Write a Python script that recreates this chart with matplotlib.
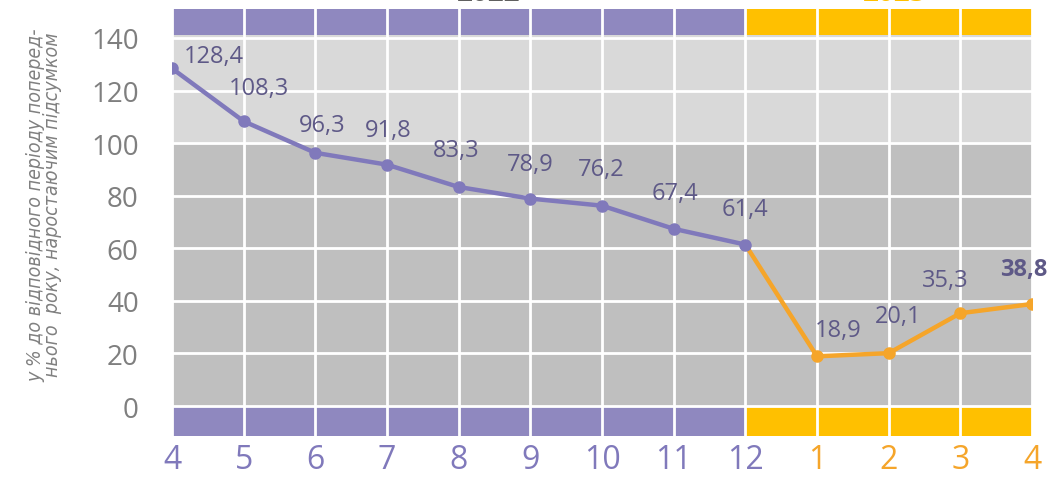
import matplotlib
matplotlib.use('Agg')
import matplotlib.pyplot as plt
import numpy as np

plt.rcParams['font.family'] = ['Open Sans', 'DejaVu Sans']

# data
months = ['4', '5', '6', '7', '8', '9', '10', '11', '12', '1', '2', '3', '4']
values_2022 = [128.4, 108.3, 96.3, 91.8, 83.3, 78.9, 76.2, 67.4, 61.4]
values_2023 = [18.9, 20.1, 35.3, 38.8]
years = ['2022', '2023']
ylabel = "у % до відповідного періоду попе\u0440ед-\nнього  року, наростаючим підсумком"

purple = '#8079bb'
purple_band = '#8f88bf'
yellow = '#ffc000'
orange = '#f5a52a'
lbl_color = '#5e5987'

# label offsets in pixels (dx, dy)
offsets = [(42, 12), (15, 33), (7, 28), (1, 35), (-2, 37), (0, 35), (-1, 37),
           (1, 36), (0, 36), (21, 26), (10, 37), (-15, 33), (-8, 35)]


def main():
    n22 = len(values_2022)
    x = np.arange(len(months))
    allv = values_2022 + values_2023

    fig = plt.figure(figsize=(10.52, 4.81), dpi=100)
    ax = fig.add_axes([0.1635, 0.0915, 0.8175, 0.8877])
    ax.set_xlim(x[0], x[-1])
    ax.set_ylim(-11.4, 151)

    # background zones
    ax.axhspan(0, 100, color='#bfbfbf', zorder=0, lw=0)
    ax.axhspan(100, 141, color='#d9d9d9', zorder=0, lw=0)
    # year bands top and bottom
    ax.fill_between(x[:n22], 141, 151, color=purple_band, lw=0, zorder=0.2)
    ax.fill_between(x[n22 - 1:], 141, 151, color=yellow, lw=0, zorder=0.2)
    ax.fill_between(x[:n22], -11.4, -0.4, color=purple_band, lw=0, zorder=0.2)
    ax.fill_between(x[n22 - 1:], -11.4, -0.4, color=yellow, lw=0, zorder=0.2)

    ax.set_yticks(range(0, 141, 20))
    ax.set_xticks(x)
    ax.set_xticklabels(months)
    ax.set_axisbelow(True)
    ax.grid(True, color='white', lw=2)
    for s in ax.spines.values():
        s.set_visible(False)
    ax.tick_params(length=0)
    ax.tick_params(axis='y', labelsize=20, labelcolor='#7f7f7f', pad=24)
    ax.tick_params(axis='x', labelsize=23, pad=5)
    for i, t in enumerate(ax.get_xticklabels()):
        t.set_color(purple if i < n22 else orange)

    # lines
    ax.plot(x[n22 - 1:], [values_2022[-1]] + values_2023, '-o', color=orange,
            lw=3.2, ms=8, markevery=range(1, 5), zorder=3)
    ax.plot(x[:n22], values_2022, '-o', color=purple, lw=3.2, ms=8, zorder=4)

    for i, v in enumerate(allv):
        txt = ('%.1f' % v).replace('.', ',')
        ax.annotate(txt, (x[i], v), xytext=offsets[i], textcoords='offset pixels',
                    ha='center', va='center', fontsize=17, color=lbl_color,
                    fontweight='bold' if i == len(allv) - 1 else 'normal', zorder=5)

    fig.text(0.042, 1 - 205 / 481, ylabel, rotation=90, ha='center', va='center',
             fontsize=14, style='italic', color='#808080', linespacing=0.8,
             family=['DejaVu Sans'], fontstretch='condensed')

    # year captions, mostly cut off by the top edge as in the original
    fig.text(489 / 1052, 1 + 6 / 481, years[0], ha='center', va='center',
             fontsize=20, fontweight='bold', color='#606060')
    fig.text(895 / 1052, 1 + 6 / 481, years[1], ha='center', va='center',
             fontsize=20, fontweight='bold', color='#ffc000')

    fig.savefig('out.png', dpi=100)


if __name__ == "__main__":
    main()
